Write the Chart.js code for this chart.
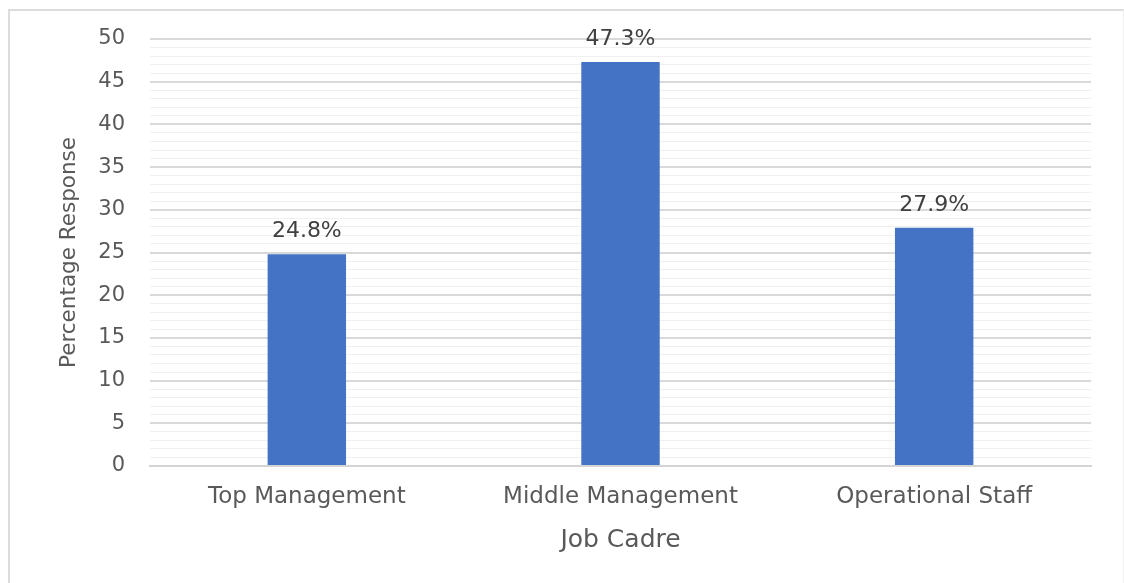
<html>
<head>
<script src="https://cdn.jsdelivr.net/npm/chart.js@4.4.0/dist/chart.umd.min.js"></script>
<style>
body { margin: 0; background: #fff; }
#frame { position: absolute; left: 8px; top: 9px; width: 1113px; height: 600px;
  border-left: 2px solid #dcdcdc; border-top: 2px solid #dcdcdc; border-right: 1px solid #f0f0f0; }
#chart { position: absolute; left: 0; top: 0; }
</style>
</head>
<body>
<div id="frame"></div>
<canvas id="chart" width="1124" height="583"></canvas>

<script>
var categories = ["Top Management", "Middle Management", "Operational Staff"]
var responses = [24.8, 47.3, 27.9]
var yMin = 0
var yMax = 50

// labels like "24.8%" above each bar
var barLabels = {
  id: "barLabels",
  afterDatasetsDraw: function(chart){
    var ctx = chart.ctx
    var meta = chart.getDatasetMeta(0)
    ctx.save()
    ctx.font = "22px 'DejaVu Sans'"
    ctx.fillStyle = "#404040"
    ctx.textAlign = "center"
    ctx.textBaseline = "alphabetic"
    meta.data.forEach(function(bar, i){
      ctx.fillText(responses[i].toFixed(1) + "%", bar.x, bar.y - 17)
    })
    ctx.restore()
  }
}

var myChart = new Chart(document.getElementById("chart"), {
  type: "bar",
  data: {
    labels: categories,
    datasets: [{
      data: responses,
      backgroundColor: "#4472C4",
      barPercentage: 0.25,
      categoryPercentage: 1.0
    }]
  },
  options: {
    responsive: false,
    animation: false,
    layout: { padding: { top: 39, right: 33, left: 0, bottom: 0 } },
    plugins: { legend: { display: false }, tooltip: { enabled: false } },
    scales: {
      x: {
        grid: { display: false, drawTicks: false },
        border: { display: true, color: "#d4d4d4", width: 2 },
        ticks: { color: "#595959", font: { family: "DejaVu Sans", size: 23 }, padding: 17, maxRotation: 0 },
        title: { display: true, text: "Job Cadre", color: "#595959",
                 font: { family: "DejaVu Sans", size: 25 }, padding: { top: 0, bottom: 28 } },
        afterFit: function(scale){ scale.height = 117 }
      },
      y: {
        min: yMin,
        max: yMax,
        grid: {
          drawTicks: false,
          color: function(c){ return c.tick.value % 5 === 0 ? "#d9d9d9" : "#f0f0f0" },
          lineWidth: function(c){ return c.tick.value % 5 === 0 ? 2 : 1 }
        },
        border: { display: false },
        ticks: {
          stepSize: 1,
          autoSkip: false,
          padding: 25,
          color: "#595959",
          font: { family: "DejaVu Sans", size: 21 },
          callback: function(v){ return v % 5 === 0 ? v : "" }
        },
        title: { display: true, text: "Percentage Response", color: "#595959",
                 font: { family: "DejaVu Sans", size: 21.5 }, padding: { top: 57, bottom: 0 } },
        afterFit: function(scale){ scale.width = 150 }
      }
    }
  },
  plugins: [barLabels]
});
</script>
</body>
</html>
